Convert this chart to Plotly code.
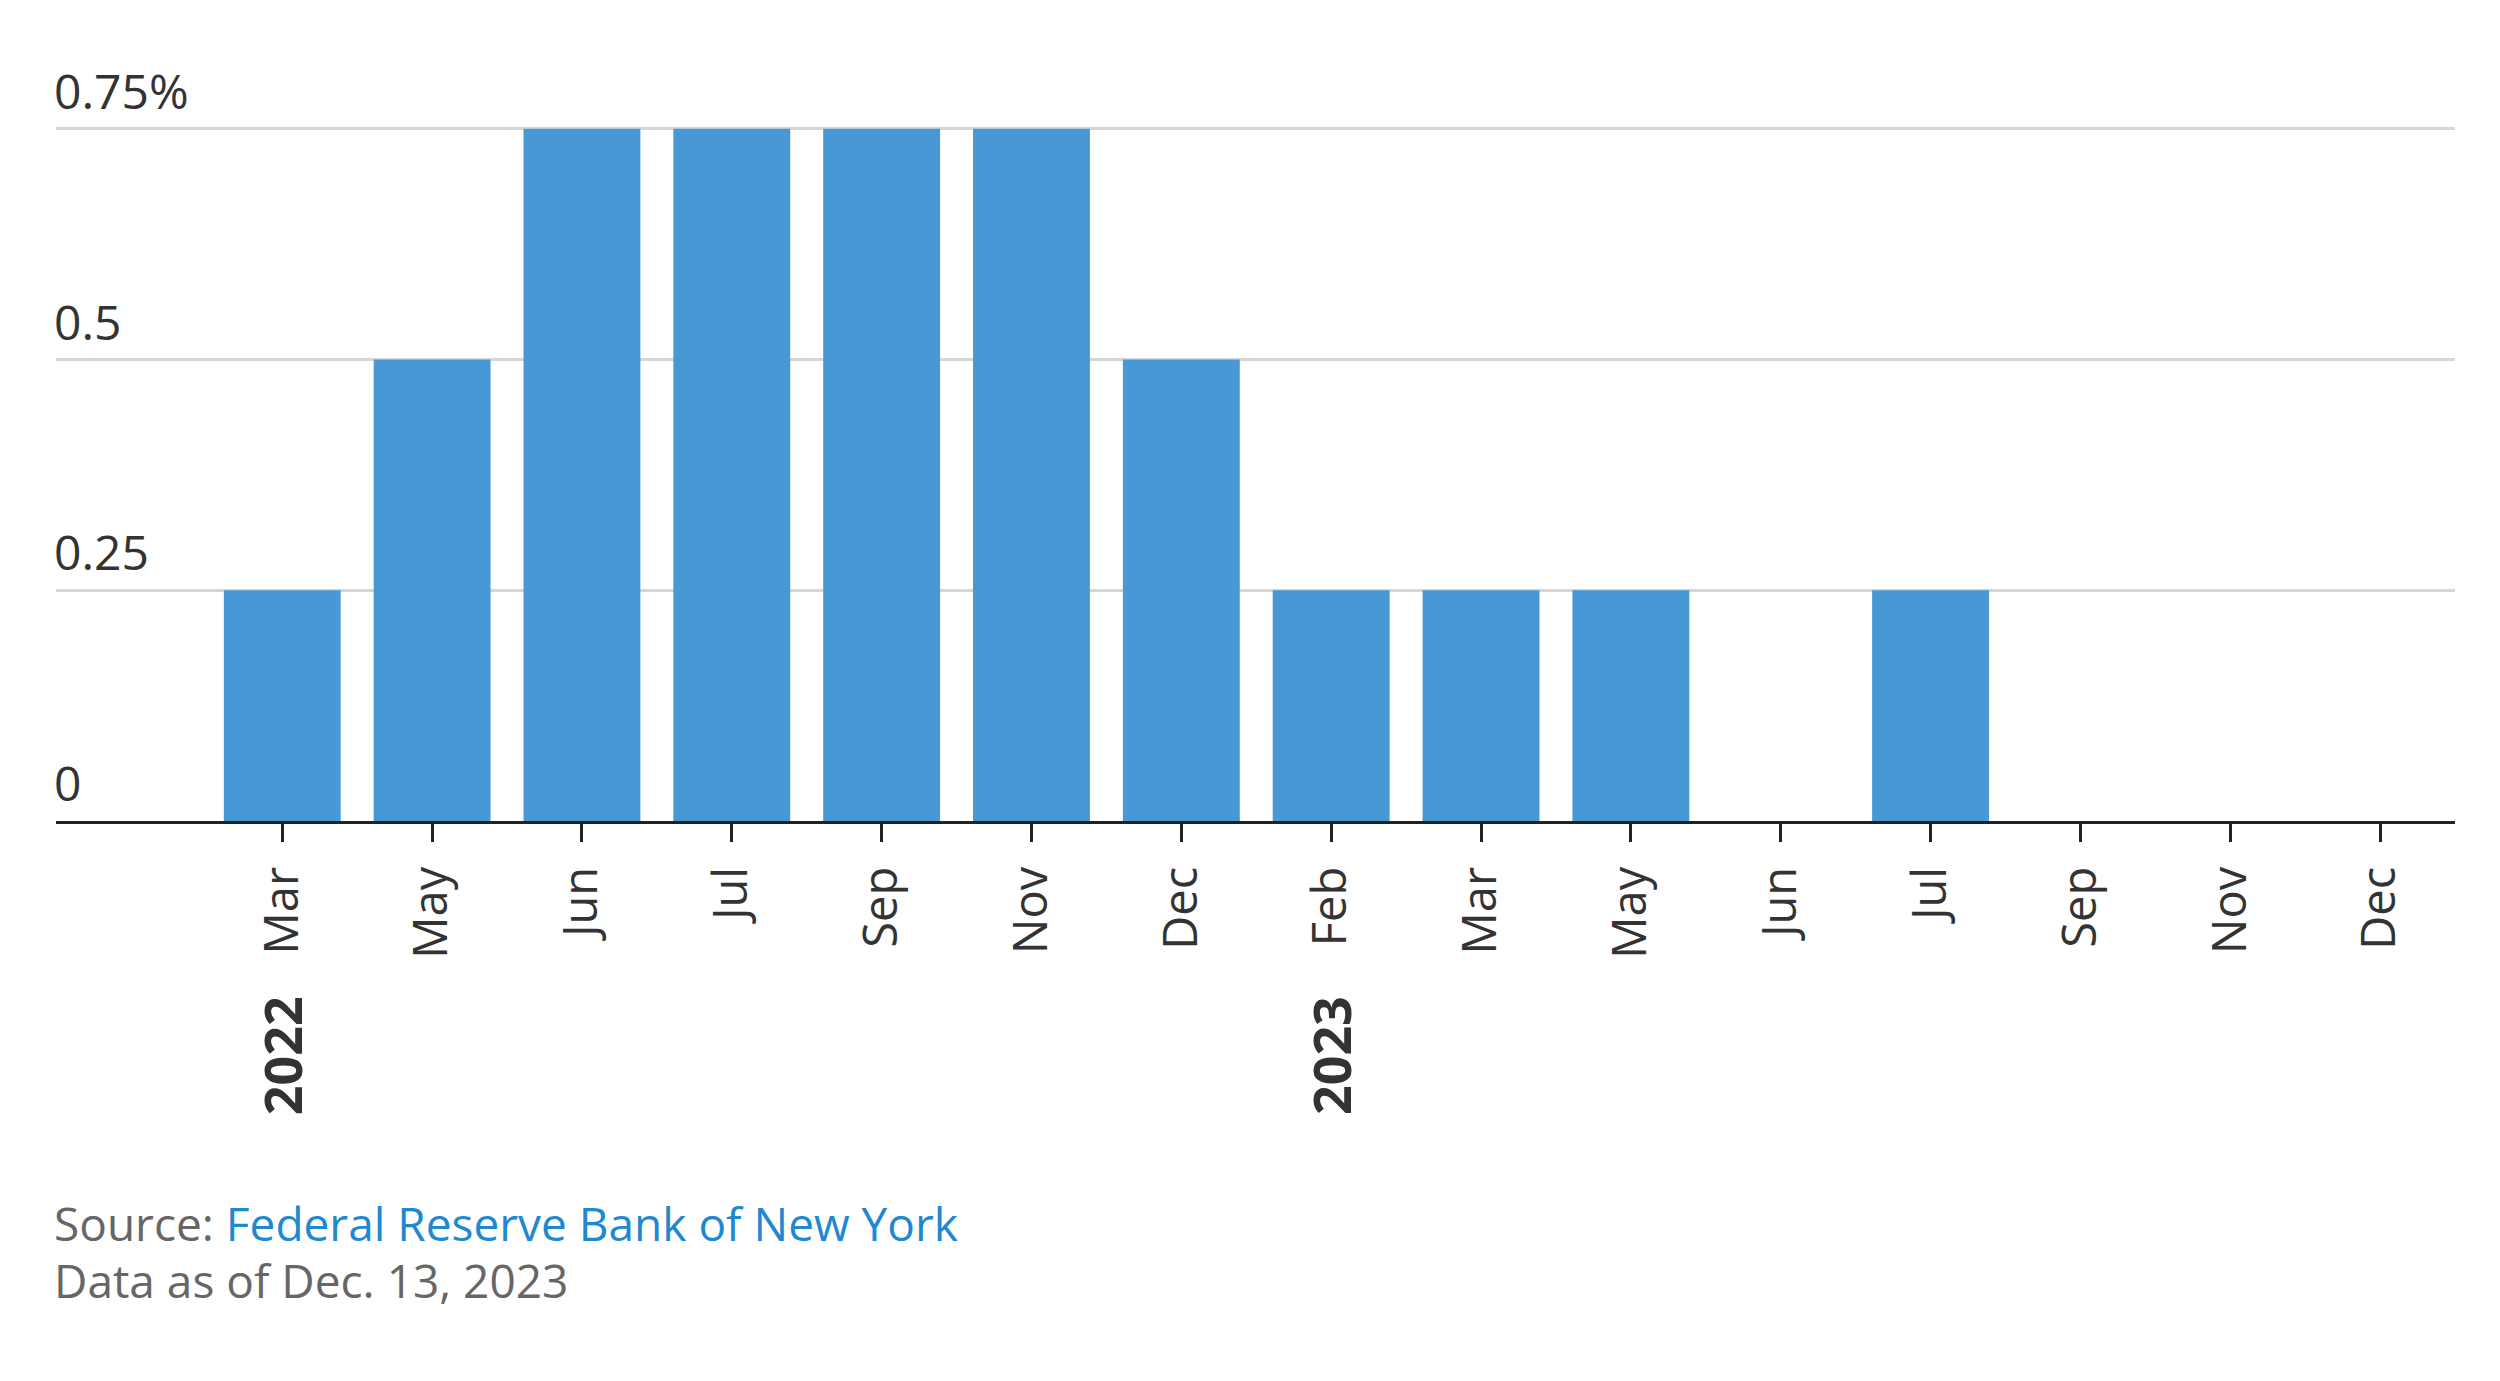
import plotly.graph_objects as go

months = ["Mar", "May", "Jun", "Jul", "Sep", "Nov", "Dec",
          "Feb", "Mar", "May", "Jun", "Jul", "Sep", "Nov", "Dec"]
years = ["2022"] * 7 + ["2023"] * 8
values = [0.25, 0.5, 0.75, 0.75, 0.75, 0.75, 0.5,
          0.25, 0.25, 0.25, 0, 0.25, 0, 0, 0]
y_tick_vals = [0, 0.25, 0.5, 0.75]
y_tick_text = ["0", "0.25", "0.5", "0.75%"]
year_labels = ["2022", "2023"]

keys = [f"{y}-{m}" for y, m in zip(years, months)]

FONT = "Open Sans"
BAR = "#4898d6"

fig = go.Figure()
fig.add_trace(go.Bar(x=keys, y=values, marker=dict(color=BAR, line=dict(width=0)),
                     hoverinfo="x+y"))

annotations = []
for v, t in zip(y_tick_vals, y_tick_text):
    annotations.append(dict(x=0, xref="paper", y=v, yref="y", text=t,
                            showarrow=False, xanchor="left", yanchor="bottom",
                            yshift=4, xshift=-4, font=dict(family=FONT, size=48, color="#333333")))
for yl in year_labels:
    first = keys[years.index(yl)]
    annotations.append(dict(x=first, xref="x", y=-0.338, yref="paper", text=f"<b>{yl}</b>",
                            showarrow=False, textangle=-90, xanchor="center", yanchor="middle",
                            font=dict(family=FONT, size=52, color="#333333")))
annotations.append(dict(x=0, xref="paper", y=-0.578, yref="paper",
                        text="<span style='color:#666666'>Source: </span>"
                             "<span style='color:#1e88d0'>Federal Reserve Bank of New York</span>",
                        showarrow=False, xanchor="left", yanchor="middle", xshift=-4,
                        font=dict(family=FONT, size=46, color="#666666")))
annotations.append(dict(x=0, xref="paper", y=-0.660, yref="paper",
                        text="Data as of Dec. 13, 2023",
                        showarrow=False, xanchor="left", yanchor="middle", xshift=-4,
                        font=dict(family=FONT, size=46, color="#666666")))

fig.update_layout(
    width=2500, height=1381,
    margin=dict(l=48, r=53, t=118, b=568),
    plot_bgcolor="white", paper_bgcolor="white",
    bargap=0.22, showlegend=False,
    annotations=annotations,
    xaxis=dict(
        type="category", range=[-1.51, 14.5],
        tickvals=keys, ticktext=months, tickangle=-90,
        ticks="outside", ticklen=18, tickwidth=3, tickcolor="#222222",
        ticklabelstandoff=6,
        showline=True, linecolor="#222222", linewidth=3,
        showgrid=False,
        tickfont=dict(family=FONT, size=47, color="#333333"),
    ),
    yaxis=dict(
        range=[0, 0.753], tickvals=y_tick_vals, showticklabels=False,
        showgrid=True, gridcolor="#d6d6d6", gridwidth=3,
        zeroline=False, showline=False, ticks="",
    ),
)

fig.write_html("out.html")
